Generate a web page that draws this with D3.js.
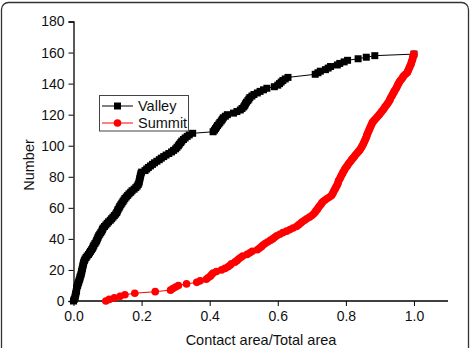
<!DOCTYPE html>
<html>
<head>
<meta charset="utf-8">
<script src="https://cdn.jsdelivr.net/npm/d3@7"></script>
<style>
  body { margin: 0; background: #fff; }
  svg { display: block; font-family: "Liberation Sans", Arial, sans-serif; }
</style>
</head>
<body>
<div id="chart"></div>
<script>
// Valley: [contact area / total area, number]
var valley = [
  [0.000,0],[0.002,1],[0.004,2],[0.005,3],[0.006,4],[0.007,5],[0.008,6],[0.009,7],[0.009,8],[0.010,9],
  [0.012,10],[0.013,11],[0.015,12],[0.016,13],[0.018,14],[0.019,15],[0.020,16],[0.022,17],[0.023,18],[0.024,19],
  [0.025,20],[0.026,21],[0.027,22],[0.028,23],[0.029,24],[0.030,25],[0.032,26],[0.034,27],[0.037,28],[0.040,29],
  [0.044,30],[0.047,31],[0.050,32],[0.053,33],[0.056,34],[0.058,35],[0.060,36],[0.063,37],[0.066,38],[0.068,39],
  [0.070,40],[0.072,41],[0.074,42],[0.077,43],[0.080,44],[0.083,45],[0.085,46],[0.087,47],[0.091,48],[0.095,49],
  [0.099,50],[0.103,51],[0.108,52],[0.112,53],[0.116,54],[0.120,55],[0.124,56],[0.127,57],[0.129,58],[0.131,59],
  [0.134,60],[0.136,61],[0.139,62],[0.142,63],[0.145,64],[0.148,65],[0.151,66],[0.155,67],[0.159,68],[0.163,69],
  [0.168,70],[0.172,71],[0.178,72],[0.183,73],[0.187,74],[0.190,75],[0.192,76],[0.193,77],[0.194,78],[0.195,79],
  [0.196,80],[0.197,81],[0.198,82],[0.200,83],[0.210,84],[0.215,85],[0.220,86],[0.226,87],[0.232,88],[0.238,89],
  [0.245,90],[0.252,91],[0.258,92],[0.265,93],[0.272,94],[0.280,95],[0.288,96],[0.294,97],[0.300,98],[0.304,99],
  [0.308,100],[0.311,101],[0.315,102],[0.318,103],[0.323,104],[0.328,105],[0.334,106],[0.340,107],[0.350,108],[0.410,109],
  [0.414,110],[0.417,111],[0.420,112],[0.423,113],[0.427,114],[0.430,115],[0.434,116],[0.437,117],[0.440,118],[0.446,119],
  [0.452,120],[0.470,121],[0.480,122],[0.490,123],[0.495,124],[0.500,125],[0.503,126],[0.505,127],[0.508,128],[0.512,129],
  [0.515,130],[0.518,131],[0.524,132],[0.530,133],[0.540,134],[0.548,135],[0.558,136],[0.568,137],[0.590,138],[0.600,139],
  [0.605,140],[0.610,141],[0.615,142],[0.622,143],[0.630,144],[0.710,146],[0.718,147],[0.725,148],[0.740,149],[0.748,150],
  [0.755,151],[0.775,152],[0.782,153],[0.795,154],[0.805,155],[0.836,156],[0.860,157],[0.885,158],[1.000,159]
];

// Summit: [contact area / total area, number]
var summit = [
  [0.095,0],[0.105,1],[0.120,2],[0.137,3],[0.151,4],[0.180,5],[0.240,6],[0.285,7],[0.292,8],[0.300,9],
  [0.308,10],[0.332,11],[0.362,12],[0.372,13],[0.390,14],[0.395,15],[0.402,16],[0.406,17],[0.410,18],[0.420,19],
  [0.435,20],[0.445,21],[0.454,22],[0.460,23],[0.464,24],[0.474,25],[0.480,26],[0.485,27],[0.491,28],[0.497,29],
  [0.510,30],[0.518,31],[0.525,32],[0.540,33],[0.546,34],[0.552,35],[0.557,36],[0.563,37],[0.570,38],[0.578,39],
  [0.585,40],[0.591,41],[0.597,42],[0.606,43],[0.615,44],[0.626,45],[0.636,46],[0.645,47],[0.655,48],[0.661,49],
  [0.667,50],[0.672,51],[0.679,52],[0.685,53],[0.693,54],[0.700,55],[0.705,56],[0.709,57],[0.712,58],[0.716,59],
  [0.719,60],[0.722,61],[0.726,62],[0.729,63],[0.733,64],[0.739,65],[0.745,66],[0.752,67],[0.758,68],[0.761,69],
  [0.763,70],[0.765,71],[0.768,72],[0.770,73],[0.773,74],[0.775,75],[0.777,76],[0.778,77],[0.780,78],[0.783,79],
  [0.785,80],[0.787,81],[0.790,82],[0.792,83],[0.795,84],[0.797,85],[0.800,86],[0.804,87],[0.807,88],[0.810,89],
  [0.814,90],[0.817,91],[0.821,92],[0.825,93],[0.828,94],[0.832,95],[0.836,96],[0.840,97],[0.843,98],[0.846,99],
  [0.848,100],[0.851,101],[0.853,102],[0.855,103],[0.857,104],[0.859,105],[0.861,106],[0.862,107],[0.864,108],[0.866,109],
  [0.868,110],[0.870,111],[0.872,112],[0.874,113],[0.876,114],[0.878,115],[0.882,116],[0.886,117],[0.890,118],[0.894,119],
  [0.898,120],[0.902,121],[0.905,122],[0.909,123],[0.912,124],[0.915,125],[0.919,126],[0.922,127],[0.925,128],[0.928,129],
  [0.930,130],[0.932,131],[0.935,132],[0.937,133],[0.940,134],[0.942,135],[0.945,136],[0.948,137],[0.950,138],[0.952,139],
  [0.955,140],[0.957,141],[0.960,142],[0.964,143],[0.967,144],[0.970,145],[0.975,146],[0.980,147],[0.982,148],[0.984,149],
  [0.986,150],[0.988,151],[0.990,152],[0.992,153],[0.993,154],[0.995,155],[0.996,156],[0.997,157],[0.998,158],[1.000,159]
];

var x_ticks = [0.0, 0.2, 0.4, 0.6, 0.8, 1.0];
var y_ticks = [0, 20, 40, 60, 80, 100, 120, 140, 160, 180];
var x_label = "Contact area/Total area";
var y_label = "Number";

var width = 473, height = 348;
var svg = d3.select("#chart").append("svg")
  .attr("width", width).attr("height", height);

// outer rounded frame
svg.append("rect")
  .attr("x", 1.5).attr("y", 2.5)
  .attr("width", 467).attr("height", 352)
  .attr("rx", 7)
  .attr("fill", "none").attr("stroke", "#333").attr("stroke-width", 1.3);

var x = d3.scaleLinear().domain([0, 1.1]).range([73.5, 448]);
var y = d3.scaleLinear().domain([0, 180]).range([301, 21.5]);

// minor ticks
var x_minor = d3.axisBottom(x).tickValues(d3.range(0.1, 1.1, 0.2)).tickSize(3).tickFormat("");
var y_minor = d3.axisLeft(y).tickValues(d3.range(10, 180, 20)).tickSize(3).tickFormat("");

var gx = svg.append("g").attr("transform", "translate(0," + y(0) + ")");
gx.call(x_minor);
gx.call(d3.axisBottom(x).tickValues(x_ticks).tickSize(5).tickPadding(5).tickFormat(d3.format(".1f")));

var gy = svg.append("g").attr("transform", "translate(" + x(0) + ",0)");
gy.call(y_minor);
gy.call(d3.axisLeft(y).tickValues(y_ticks).tickSize(5).tickPadding(4));

svg.selectAll(".domain").attr("stroke", "#000").attr("stroke-width", 1.3);
svg.selectAll(".tick line").attr("stroke", "#000");
svg.selectAll(".tick text").attr("font-size", 14).attr("fill", "#111")
  .attr("font-family", "Liberation Sans, Arial, sans-serif");
gx.select(".domain").attr("d", "M" + x(0) + ",0H" + x(1.1));

svg.append("text")
  .attr("x", 261).attr("y", 345)
  .attr("text-anchor", "middle").attr("font-size", 14.5).attr("fill", "#111")
  .text(x_label);
svg.append("text")
  .attr("transform", "translate(34," + 165 + ") rotate(-90)")
  .attr("text-anchor", "middle").attr("font-size", 14.5).attr("fill", "#111")
  .text(y_label);

var line = d3.line().x(d => x(d[0])).y(d => y(d[1]));

function draw_series(data, color, shape) {
  svg.append("path").datum(data)
    .attr("d", line).attr("fill", "none")
    .attr("stroke", color).attr("stroke-width", 1);
  var sym = d3.symbol().type(shape).size(shape === d3.symbolSquare ? 49 : 46);
  svg.append("g").selectAll("path")
    .data(data)
    .enter().append("path")
      .attr("transform", d => "translate(" + x(d[0]) + "," + y(d[1]) + ")")
      .attr("d", sym)
      .attr("fill", color);
}

draw_series(valley, "#000", d3.symbolSquare);
draw_series(summit, "#ff0000", d3.symbolCircle);

// legend
var lg = svg.append("g");
lg.append("rect")
  .attr("x", 99.5).attr("y", 95.5).attr("width", 89).attr("height", 35.5)
  .attr("fill", "#fff").attr("stroke", "#444").attr("stroke-width", 1);
var items = [["Valley", "#000", d3.symbolSquare, 106], ["Summit", "#ff0000", d3.symbolCircle, 123]];
items.forEach(function(it) {
  lg.append("line").attr("x1", 102).attr("x2", 133).attr("y1", it[3]).attr("y2", it[3])
    .attr("stroke", it[1]).attr("stroke-width", 1);
  lg.append("path").attr("transform", "translate(117.5," + it[3] + ")")
    .attr("d", d3.symbol().type(it[2]).size(it[2] === d3.symbolSquare ? 49 : 46)).attr("fill", it[1]);
  lg.append("text").attr("x", 138).attr("y", it[3] + 5)
    .attr("font-size", 14.5).attr("fill", "#111").text(it[0]);
});
</script>
</body>
</html>
